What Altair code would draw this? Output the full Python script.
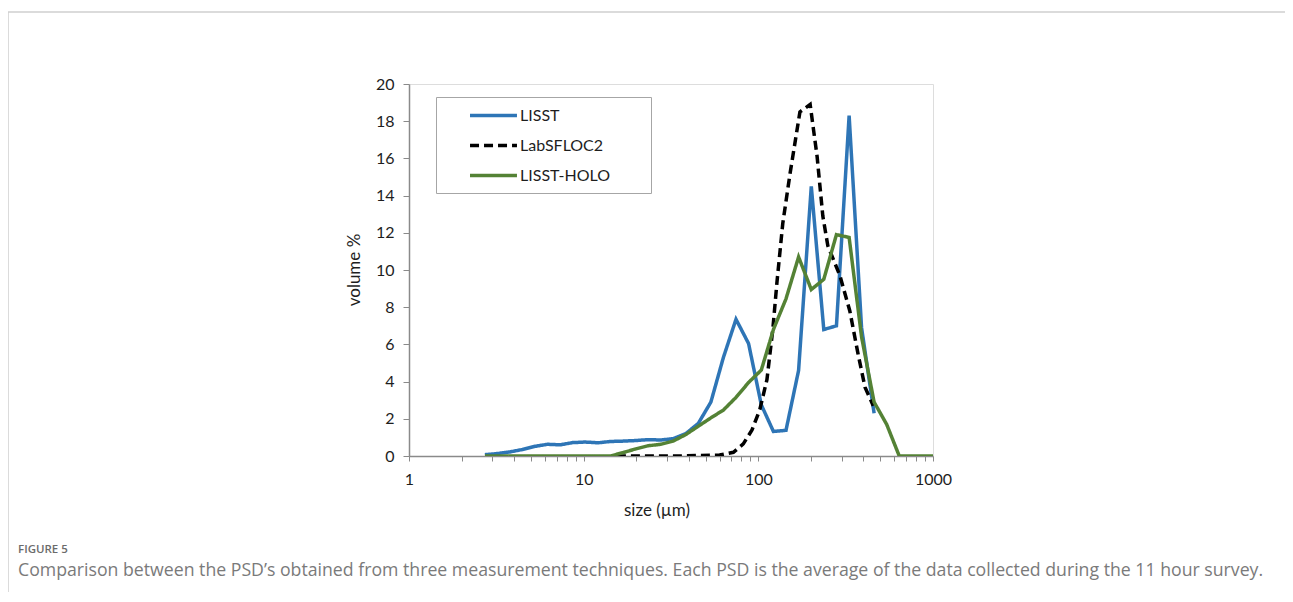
import altair as alt
import pandas as pd

# ---- data ----
series = ["LISST", "LabSFLOC2", "LISST-HOLO"]

lisst_size = [2.72, 3.20, 3.78, 4.46, 5.27, 6.21, 7.33, 8.65, 10.2, 12.1, 14.2, 16.8,
              19.8, 23.4, 27.6, 32.5, 38.4, 45.3, 53.5, 63.1, 74.5, 87.9, 104, 122,
              144, 170, 201, 237, 280, 331, 390, 460]
lisst_vol = [0.07, 0.13, 0.22, 0.35, 0.52, 0.63, 0.60, 0.72, 0.75, 0.71, 0.78, 0.80,
             0.83, 0.88, 0.86, 0.93, 1.2, 1.75, 2.9, 5.3, 7.35, 6.05, 2.75, 1.32,
             1.38, 4.6, 14.5, 6.8, 7.0, 18.3, 6.9, 2.3]

sfloc_size = [15.5, 35, 60, 72, 82, 92, 102, 112, 121, 128, 138, 152, 173, 198, 217,
              234, 250, 293, 334, 372, 408, 455]
sfloc_vol = [0, 0, 0.05, 0.2, 0.65, 1.4, 2.5, 4.1, 6.8, 9.4, 12.5, 15.2, 18.5, 18.9,
             16.1, 12.9, 11.3, 9.7, 7.8, 5.5, 3.7, 2.7]

holo_size = [2.72, 3.20, 3.78, 4.46, 5.27, 6.21, 7.33, 8.65, 10.2, 12.1, 14.2, 16.8,
             19.8, 23.4, 27.6, 32.5, 38.4, 45.3, 53.5, 63.1, 74.5, 87.9, 104, 122,
             144, 170, 201, 237, 280, 331, 390, 460, 543, 641, 1000]
holo_vol = [0, 0, 0, 0, 0, 0, 0, 0, 0, 0, 0, 0.18,
            0.38, 0.55, 0.63, 0.8, 1.15, 1.6, 2.05, 2.47, 3.15, 3.95, 4.62, 6.8,
            8.45, 10.7, 8.95, 9.5, 11.9, 11.75, 6.4, 2.9, 1.7, 0.0, 0.0]

x_ticks = [1, 2, 3, 4, 5, 6, 7, 8, 9, 10, 20, 30, 40, 50, 60, 70, 80, 90, 100,
           200, 300, 400, 500, 600, 700, 800, 900, 1000]
y_ticks = [0, 2, 4, 6, 8, 10, 12, 14, 16, 18, 20]

x_title = "size (µm)"
y_title = "volume %"
fig_label = "FIGURE 5"
caption = ("Comparison between the PSD\u2019s obtained from three measurement techniques. "
           "Each PSD is the average of the data collected during the 11 hour survey.")

colors = ["#2E75B6", "#000000", "#548235"]
dashes = [[1, 0], [9, 5], [1, 0]]

frames = []
for name, xs, ys in [(series[0], lisst_size, lisst_vol),
                     (series[1], sfloc_size, sfloc_vol),
                     (series[2], holo_size, holo_vol)]:
    frames.append(pd.DataFrame({"size": xs, "volume": ys, "series": name}))
df = pd.concat(frames, ignore_index=True)

W, H = 524, 372
FONT = "Lato"
AX = "#8a8a8a"
TXT = "#1e1e1e"

legend = alt.Legend(
    title=None, orient="none", legendX=27, legendY=13,
    symbolType="M-3.13,0H3.13", symbolSize=225, symbolStrokeWidth=3.5,
    strokeColor="#a6a6a6", fillColor="white", padding=9, symbolOffset=39,
    rowPadding=12, labelFontSize=16, labelFont=FONT, labelOffset=17,
    labelColor=TXT,
    labelExpr="datum.label + '\u2002\u2003\u2800'",
)

lines = alt.Chart(df).mark_line(strokeWidth=3.5, clip=True).encode(
    x=alt.X("size:Q",
            scale=alt.Scale(type="log", domain=[1, 1000]),
            axis=alt.Axis(values=x_ticks, format="d", title=None,
                          labelExpr="indexof([1,10,100,1000], datum.value) >= 0 ? datum.label : ''",
                          tickSize=5, labelPadding=10, labelFontSize=16, labelFont=FONT,
                          labelColor=TXT, domainColor=AX, tickColor=AX,
                          domainWidth=1.5, tickWidth=1, grid=False, labelFlush=False)),
    y=alt.Y("volume:Q",
            scale=alt.Scale(domain=[0, 20], nice=False),
            axis=alt.Axis(values=y_ticks, title=None, tickSize=6, labelPadding=9,
                          labelFontSize=16, labelFont=FONT, labelColor=TXT,
                          domainColor=AX, tickColor=AX, domainWidth=1.5, grid=False)),
    color=alt.Color("series:N", scale=alt.Scale(domain=series, range=colors), legend=legend),
    strokeDash=alt.StrokeDash("series:N", scale=alt.Scale(domain=series, range=dashes), legend=legend),
)

one = alt.Data(values=[{"a": 1}])

xt = alt.Chart(one).mark_text(text=x_title, font=FONT, fontSize=17, color=TXT,
                              align="center", baseline="middle").encode(
    x=alt.value(248), y=alt.value(427))
yt = alt.Chart(one).mark_text(text=y_title, font=FONT, fontSize=17, color=TXT,
                              align="center", baseline="middle", angle=270).encode(
    x=alt.value(-54), y=alt.value(186))
fl = alt.Chart(one).mark_text(text=fig_label, font="Open Sans", fontSize=11.5, fontWeight=600,
                              color="#6b6b6b", align="left", baseline="alphabetic").encode(
    x=alt.value(-391), y=alt.value(469))
cap = alt.Chart(one).mark_text(text=caption, font="Open Sans", fontSize=17.7, color="#7a7a7a",
                               align="left", baseline="alphabetic").encode(
    x=alt.value(-391), y=alt.value(492))

FR = "#cfcfcf"
fr_left = alt.Chart(one).mark_rule(color=FR, strokeWidth=1.5).encode(
    x=alt.value(-401), y=alt.value(-72), y2=alt.value(520))
fr_right = alt.Chart(one).mark_rule(color=FR, strokeWidth=1.5).encode(
    x=alt.value(877), y=alt.value(-72), y2=alt.value(520))
fr_top = alt.Chart(one).mark_rule(color=FR, strokeWidth=1.5).encode(
    x=alt.value(-401), x2=alt.value(877), y=alt.value(-72))

chart = alt.layer(fr_left, fr_right, fr_top, lines, xt, yt, fl, cap).properties(
    width=W, height=H,
    autosize=alt.AutoSizeParams(type="none"),
    padding={"left": 401, "top": 76, "right": 352, "bottom": 136},
).configure_view(stroke=AX, strokeWidth=1.5).configure(background="white")

chart.save("out.html", embed_options={"renderer": "svg", "actions": False})
